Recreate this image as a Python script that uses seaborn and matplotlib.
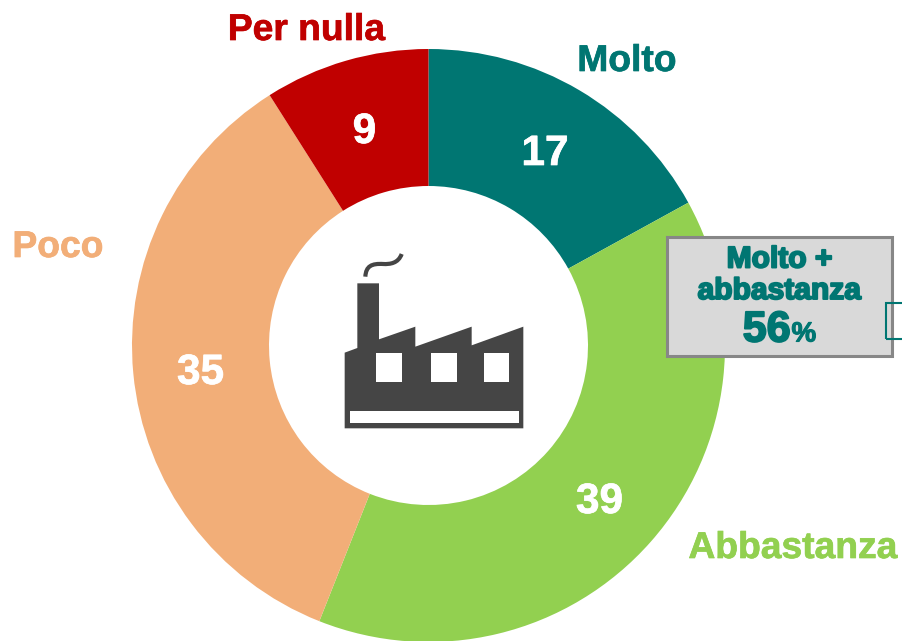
import matplotlib
matplotlib.use("Agg")
import matplotlib.pyplot as plt
import matplotlib.patheffects as pe
from matplotlib.patches import Polygon, Rectangle
from matplotlib.path import Path
from matplotlib.patches import PathPatch
import seaborn as sns

categories = ["Molto", "Abbastanza", "Poco", "Per nulla"]
values = [17, 39, 35, 9]
colors = ["#007672", "#92D050", "#F2AE78", "#C00000"]
label_pos = [(627, 71), (793, 558), (58, 257), (306.5, 40)]
value_pos = [(545, 165), (599.5, 513), (200.5, 384), (364.5, 143)]
TEAL = "#007672"

sns.set_theme(style="white")
plt.rcParams["font.family"] = ["Liberation Sans", "DejaVu Sans"]

W, H = 902, 641
fig = plt.figure(figsize=(W / 100, H / 100), dpi=100, facecolor="white")
ax = fig.add_axes([0, 0, 1, 1])


def Y(y):
    return H - y


palette = sns.color_palette(colors)
CX, CY, R, r = 428.5, 345.5, 296.5, 159.5
ax.pie(values, colors=palette, startangle=90, counterclock=False,
       radius=R, center=(CX, Y(CY)),
       wedgeprops=dict(width=R - r, linewidth=0), frame=True)
ax.set_xlim(0, W)
ax.set_ylim(0, H)
ax.set_aspect("equal")
ax.set_axis_off()

for cat, col, (x, y) in zip(categories, colors, label_pos):
    ax.text(x, Y(y), cat, color=col, fontsize=26.8, fontweight="bold",
            ha="center", va="baseline",
            path_effects=[pe.withStroke(linewidth=0.5, foreground=col)])
for val, (x, y) in zip(values, value_pos):
    ax.text(x, Y(y), str(val), color="white", fontsize=30.5, fontweight="bold",
            ha="center", va="baseline",
            path_effects=[pe.withStroke(linewidth=0.5, foreground="white")])


# factory icon, positions measured in the 3x zoom of the reference
def ix(p):
    return 330 + p / 3


def iy(p):
    return Y(240 + p / 3)


DARK = "#454545"
body = [(44, 338), (82, 324), (82, 130), (147, 130), (147, 298), (256, 260),
        (256, 320), (425, 260), (425, 316), (580, 260), (580, 565), (44, 565)]
ax.add_patch(Polygon([(ix(a), iy(b)) for a, b in body], closed=True, fc=DARK, ec="none", zorder=5))
for x0, y0, x1, y1 in [(139, 340, 215, 427), (304, 340, 380, 427),
                       (461, 340, 538, 427), (59, 513, 566, 550)]:
    ax.add_patch(Rectangle((ix(x0), iy(y1)), (x1 - x0) / 3, (y1 - y0) / 3,
                           fc="white", ec="none", zorder=6))
smoke = Path([(ix(a), iy(b)) for a, b in [(106, 110), (108, 78), (125, 70), (160, 72),
                                          (180, 73), (205, 70), (215, 42)]],
             [Path.MOVETO, Path.CURVE4, Path.CURVE4, Path.CURVE4,
              Path.CURVE4, Path.CURVE4, Path.CURVE4])
ax.add_patch(PathPatch(smoke, fc="none", ec=DARK, lw=3.0, zorder=5))

# callout box
ax.add_patch(Rectangle((667, Y(356)), 225, 119, fc="#D9D9D9", ec="#878787", lw=2.2, zorder=7))
ax.add_patch(Rectangle((886, Y(339)), 30, 36, fc="none", ec=TEAL, lw=1.5, zorder=8))
heavy = [pe.withStroke(linewidth=1.4, foreground=TEAL)]
ax.text(779.5, Y(267.5), "Molto +", color=TEAL, fontsize=21.6, fontweight="bold",
        ha="center", va="baseline", zorder=9, path_effects=heavy)
ax.text(779.5, Y(299), "abbastanza", color=TEAL, fontsize=21.6, fontweight="bold",
        ha="center", va="baseline", zorder=9, path_effects=heavy)
ax.text(790.5, Y(341.5), "56", color=TEAL, fontsize=31, fontweight="bold",
        ha="right", va="baseline", zorder=9, path_effects=heavy)
ax.text(791.5, Y(341.5), "%", color=TEAL, fontsize=20, fontweight="bold",
        ha="left", va="baseline", zorder=9,
        path_effects=[pe.withStroke(linewidth=0.8, foreground=TEAL)])

fig.savefig("out.png", dpi=100)
